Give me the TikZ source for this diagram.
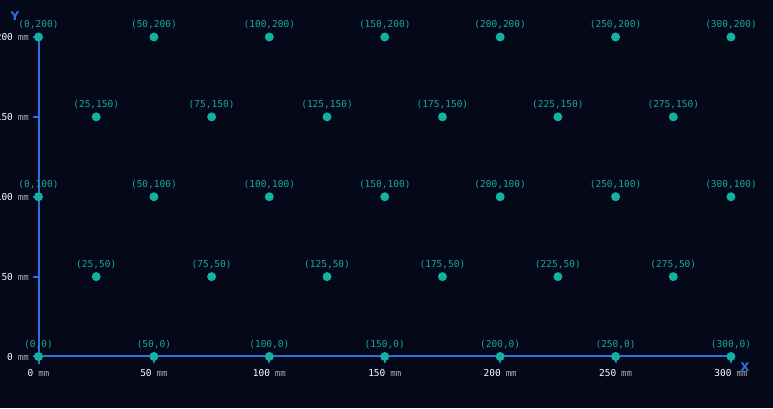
\documentclass[tikz,border=0pt]{standalone}
\usepackage{fontspec}
\setmonofont{DejaVu Sans Mono}
\setsansfont{DejaVu Sans}
\definecolor{bg}{HTML}{040818}
\definecolor{axisblue}{HTML}{2F6FE0}
\definecolor{dotteal}{HTML}{14B0A0}
\definecolor{labteal}{HTML}{1CA898}
\definecolor{mmgray}{HTML}{B0B0B0}
\tikzset{
  axisline/.style={draw=axisblue, line width=2pt},
  tickline/.style={draw=axisblue, line width=2pt},
  dot/.style={circle, fill=dotteal, inner sep=0pt, minimum size=9pt},
  ptlabel/.style={text=labteal, font=\ttfamily\fontsize{9.5}{10}\selectfont, inner sep=0pt},
  ticklab/.style={text=white, font=\ttfamily\fontsize{9.5}{10}\selectfont, inner sep=0pt},
  axlab/.style={text=axisblue, font=\sffamily\bfseries\fontsize{12}{12}\selectfont, inner sep=0pt}
}
\newcommand{\mmunit}{\hspace{5pt}{\color{mmgray}\fontsize{9}{9}\selectfont mm}}
\begin{document}
\begin{tikzpicture}[x=2.3083pt, y=1.5975pt]
\fill[bg] (-16.68,-32.24) rectangle (318.2,223.16);
\useasboundingbox (-16.68,-32.24) rectangle (318.2,223.16);
% axes
\coordinate (O) at (0,0);
\coordinate (XE) at (300,0);
\coordinate (YE) at (0,200);
\draw[axisline] (YE) -- (O) -- ([yshift=-8pt]O);
\draw[axisline] ([xshift=-6pt]O) -- (XE);
% x ticks
\foreach \x in {0,50,...,300}{
  \coordinate (xt\x) at (\x,0);
  \draw[tickline] (xt\x) -- ([yshift=-7pt]xt\x);
  \node[ticklab, anchor=base] (xl\x) at ([yshift=-20pt]xt\x) {\x\mmunit};
}
% y ticks
\foreach \y in {0,50,...,200}{
  \coordinate (yt\y) at (0,\y);
  \draw[tickline] (yt\y) -- ([xshift=-6pt]yt\y);
  \node[ticklab, anchor=base east] (yl\y) at ([xshift=-9.5pt,yshift=-4pt]yt\y) {\y\mmunit};
}
% axis labels
\node[axlab] (xlab) at ([xshift=14pt,yshift=-11pt]XE) {X};
\node[axlab] (ylab) at ([xshift=-23.5pt,yshift=21pt]YE) {Y};
% points
\foreach \y in {0,100,200}{
  \foreach \x in {0,50,...,300}{
    \node[dot] (p\x-\y) at (\x,\y) {};
    \node[ptlabel] (l\x-\y) at ([yshift=12pt]p\x-\y.center) {(\x,\y)};
  }
}
\foreach \y in {50,150}{
  \foreach \x in {25,75,...,275}{
    \node[dot] (p\x-\y) at (\x,\y) {};
    \node[ptlabel] (l\x-\y) at ([yshift=12pt]p\x-\y.center) {(\x,\y)};
  }
}
\end{tikzpicture}
\end{document}
